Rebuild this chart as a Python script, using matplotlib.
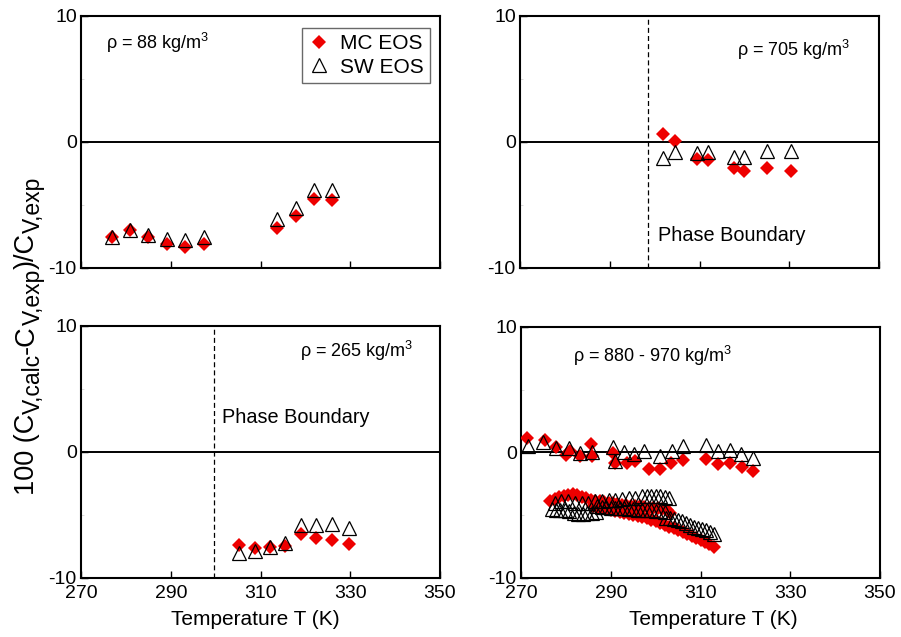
import matplotlib
matplotlib.use("Agg")
import matplotlib.pyplot as plt
from matplotlib.ticker import FixedLocator

plt.rcParams['font.family'] = ['Liberation Sans', 'DejaVu Sans']
plt.rcParams['mathtext.fontset'] = 'custom'
plt.rcParams['mathtext.rm'] = 'Liberation Sans'
plt.rcParams['mathtext.default'] = 'regular'

# ---- Panel 1: rho = 88 kg/m3 ----
t88 = [276.8, 280.9, 285.0, 289.1, 293.2, 297.4, 313.6, 317.8, 321.9, 326.0]
mc88 = [-7.5, -6.95, -7.5, -8.1, -8.3, -8.1, -6.8, -5.9, -4.55, -4.6]
sw88 = [-7.5, -6.95, -7.35, -7.7, -7.75, -7.5, -6.1, -5.2, -3.8, -3.8]

# ---- Panel 2: rho = 705 kg/m3 ----
t705 = [301.8, 304.5, 309.4, 311.9, 317.6, 320.0, 325.1, 330.3]
mc705 = [0.61, 0.08, -1.33, -1.39, -2.05, -2.27, -2.1, -2.27]
sw705 = [-1.25, -0.77, -0.9, -0.77, -1.17, -1.17, -0.72, -0.72]
pb705 = 298.6

# ---- Panel 3: rho = 265 kg/m3 ----
t265 = [305.3, 308.8, 312.1, 315.4, 319.1, 322.4, 326.0, 329.8]
mc265 = [-7.39, -7.6, -7.55, -7.47, -6.48, -6.8, -6.99, -7.28]
sw265 = [-8.05, -7.87, -7.55, -7.2, -5.79, -5.79, -5.73, -6.0]
pb265 = 299.6

# ---- Panel 4: rho = 880 - 970 kg/m3 ----
# near-zero group
t_hi_mc = [271.3, 275.3, 277.9, 280.1, 281.0, 283.2, 285.7, 285.8, 290.5, 291.0,
           293.6, 295.5, 298.6, 301.0, 303.5, 306.1, 311.3, 313.9, 316.5, 319.2, 321.8]
mc_hi = [1.12, 0.98, 0.4, -0.2, 0.1, -0.27, 0.66, -0.27, -0.05, -0.8,
         -0.85, -0.66, -1.28, -1.28, -0.85, -0.59, -0.53, -0.93, -0.85, -1.14, -1.46]
t_hi_sw = [271.6, 275.0, 277.9, 280.8, 283.2, 285.8, 290.5, 291.0, 292.9, 295.1,
           297.5, 301.0, 303.6, 306.1, 311.3, 313.9, 316.5, 319.1, 321.8]
sw_hi = [0.53, 0.8, 0.32, 0.32, -0.05, 0.0, 0.4, -0.66, 0.05, -0.13,
         0.13, -0.27, 0.13, 0.53, 0.59, 0.13, 0.19, -0.08, -0.45]
# lower group, MC (two bands)
t_lo_mc1 = [276.5, 277.5, 278.5, 279.5, 280.5, 281.5, 282.5, 283.5, 284.5, 285.5,
            286.5, 287.5, 288.5, 289.5, 290.5, 291.5, 292.5, 293.5, 294.5, 295.5,
            296.5, 297.5, 298.5, 299.5, 300.5, 301.5, 302.5, 303.3]
mc_lo1 = [-3.9, -3.7, -3.55, -3.45, -3.35, -3.3, -3.4, -3.55, -3.65, -3.75,
          -3.85, -3.9, -3.95, -4.0, -4.05, -4.1, -4.15, -4.2, -4.25, -4.3,
          -4.3, -4.35, -4.4, -4.4, -4.45, -4.5, -4.6, -4.8]
t_lo_mc2 = [286.0, 287.0, 288.0, 289.0, 290.0, 291.0, 292.0, 293.0, 294.0, 295.0,
            296.0, 297.0, 298.0, 299.0, 300.0, 301.0, 302.0, 303.0, 304.0, 305.0,
            306.0, 307.0, 308.0, 309.0, 310.0, 311.0, 312.0, 313.0]
mc_lo2 = [-4.3, -4.4, -4.45, -4.5, -4.6, -4.7, -4.75, -4.85, -4.9, -5.0,
          -5.05, -5.15, -5.25, -5.35, -5.45, -5.6, -5.75, -5.95, -6.05, -6.2,
          -6.35, -6.5, -6.65, -6.8, -6.95, -7.1, -7.3, -7.5]
# lower group, SW (several bands)
t_lo_sw1 = [276.8, 277.8, 278.8, 279.8, 280.8, 281.8, 282.8, 283.8, 284.8, 285.8, 286.8]
sw_lo1 = [-4.5, -4.55, -4.6, -4.6, -4.7, -4.8, -4.9, -4.9, -4.85, -4.8, -4.75]
t_lo_sw2 = [277.5, 279.0, 280.5, 282.0, 283.5, 285.0, 286.5, 288.0, 289.5, 291.0,
            292.5, 294.0, 295.5, 297.0, 298.0, 299.0, 300.0, 301.0, 302.0, 303.0]
sw_lo2 = [-4.0, -3.9, -3.85, -4.0, -4.05, -4.0, -3.9, -3.85, -3.8, -3.75,
          -3.7, -3.65, -3.6, -3.5, -3.45, -3.45, -3.5, -3.5, -3.55, -3.6]
t_lo_sw3 = [287.0, 288.0, 289.0, 290.0, 291.0, 292.0, 293.0, 294.0, 295.0, 296.0,
            297.0, 298.0, 299.0, 300.0, 301.0, 302.0]
sw_lo3 = [-4.3, -4.35, -4.35, -4.4, -4.4, -4.45, -4.45, -4.5, -4.5, -4.55,
          -4.55, -4.6, -4.6, -4.65, -4.7, -4.75]
t_lo_sw4 = [302.3, 303.2, 304.1, 305.0, 305.9, 306.8, 307.7, 308.6, 309.5, 310.4,
            311.3, 312.2, 313.1]
sw_lo4 = [-5.2, -5.25, -5.3, -5.35, -5.45, -5.6, -5.75, -5.9, -6.0, -6.1,
          -6.2, -6.35, -6.5]

xticks = [270, 290, 310, 330, 350]
yticks = [-10, 0, 10]
ytick_labels = ['-10', '0', '10']

# y-axis label pieces: (text, is_subscript)
ylabel_parts = [('100 (C', False), ('V,calc', True), ('-C', False),
                ('V,exp', True), (')/C', False), ('V,exp', True)]

W, H = 901, 637
fig = plt.figure(figsize=(W / 100, H / 100), dpi=100)

def px_axes(l, t, r, b):
    return fig.add_axes([l / W, 1 - b / H, (r - l) / W, (b - t) / H])

ax1 = px_axes(81, 16, 440, 268)
ax2 = px_axes(520, 16, 879, 268)
ax3 = px_axes(81, 326, 440, 578)
ax4 = px_axes(521, 327, 880, 578)

mc_kw = dict(marker='D', color='#ee0000', markersize=7.5, linestyle='none',
             markeredgewidth=0, zorder=3)
sw_kw = dict(marker='^', markerfacecolor='none', markeredgecolor='black',
             markersize=10, markeredgewidth=0.9, linestyle='none', zorder=4)

for ax in (ax1, ax2, ax3, ax4):
    ax.set_xlim(270, 350)
    ax.set_ylim(-10, 10)
    ax.xaxis.set_major_locator(FixedLocator(xticks))
    ax.yaxis.set_major_locator(FixedLocator(yticks))
    ax.yaxis.set_minor_locator(FixedLocator([-5, 5]))
    ax.tick_params(which='major', direction='in', length=5, width=1.0,
                   labelsize=14, pad=3)
    ax.tick_params(which='minor', direction='in', length=2, width=0.5,
                   color='#cccccc')
    ax.tick_params(axis='x', pad=5)
    for s in ax.spines.values():
        s.set_linewidth(1.5)
    ax.axhline(0, color='black', linewidth=1.4, zorder=2)
    ax.set_yticklabels(ytick_labels)

ax1.tick_params(labelbottom=False)
ax2.tick_params(labelbottom=False)

txt = 13
# Panel 1
ax1.plot(t88, mc88, label='MC EOS', **mc_kw)
ax1.plot(t88, sw88, label='SW EOS', **sw_kw)
ax1.text(275.6, 7.9, 'ρ = 88 kg/m$^3$', fontsize=txt, va='center', ha='left')
leg = ax1.legend(loc='upper right', bbox_to_anchor=(0.972, 0.952), fontsize=15,
                 frameon=True, fancybox=False, edgecolor='#444444',
                 handletextpad=0.5, borderpad=0.3, handlelength=1.0,
                 labelspacing=0.2, borderaxespad=0)
leg.get_frame().set_linewidth(1.0)

# Panel 2
ax2.plot(t705, mc705, **mc_kw)
ax2.plot(t705, sw705, **sw_kw)
ax2.axvline(pb705, color='black', linestyle=(0, (4, 2.5)), linewidth=0.9)
ax2.text(318.4, 7.3, 'ρ = 705 kg/m$^3$', fontsize=txt, va='center', ha='left')
ax2.text(300.7, -7.4, 'Phase Boundary', fontsize=14.3, va='center', ha='left')

# Panel 3
ax3.plot(t265, mc265, **mc_kw)
ax3.plot(t265, sw265, **sw_kw)
ax3.axvline(pb265, color='black', linestyle=(0, (4, 2.5)), linewidth=0.9)
ax3.text(318.7, 8.0, 'ρ = 265 kg/m$^3$', fontsize=txt, va='center', ha='left')
ax3.text(301.4, 2.7, 'Phase Boundary', fontsize=14.3, va='center', ha='left')

# Panel 4
for tt, yy in ((t_hi_mc, mc_hi), (t_lo_mc1, mc_lo1), (t_lo_mc2, mc_lo2)):
    ax4.plot(tt, yy, **mc_kw)
for tt, yy in ((t_hi_sw, sw_hi), (t_lo_sw1, sw_lo1), (t_lo_sw2, sw_lo2),
               (t_lo_sw3, sw_lo3), (t_lo_sw4, sw_lo4)):
    ax4.plot(tt, yy, **sw_kw)
ax4.text(281.6, 7.7, 'ρ = 880 - 970 kg/m$^3$', fontsize=txt, va='center', ha='left')

ax3.set_xlabel('Temperature T (K)', fontsize=15, labelpad=6)
ax4.set_xlabel('Temperature T (K)', fontsize=15, labelpad=6)
ax3.xaxis.label.set_x(0.485)
ax4.xaxis.label.set_x(0.535)

# rotated y label built from pieces (subscripts nearly full size)
renderer = fig.canvas.get_renderer()
main_size, sub_size, sub_shift = 19.5, 16.5, 5.5
pieces = []
total = 0.0
for s, is_sub in ylabel_parts:
    t = fig.text(0, 0, s, rotation=90, rotation_mode='anchor', ha='left',
                 va='baseline', fontsize=sub_size if is_sub else main_size)
    ext = t.get_window_extent(renderer)
    pieces.append((t, is_sub, ext.height))
    total += ext.height
center_y = H - 336
base_x = 34
y = center_y - total / 2
for t, is_sub, h in pieces:
    x = base_x + (sub_shift if is_sub else 0)
    t.set_position((x / W, y / H))
    y += h

fig.savefig('out.png', dpi=100)
